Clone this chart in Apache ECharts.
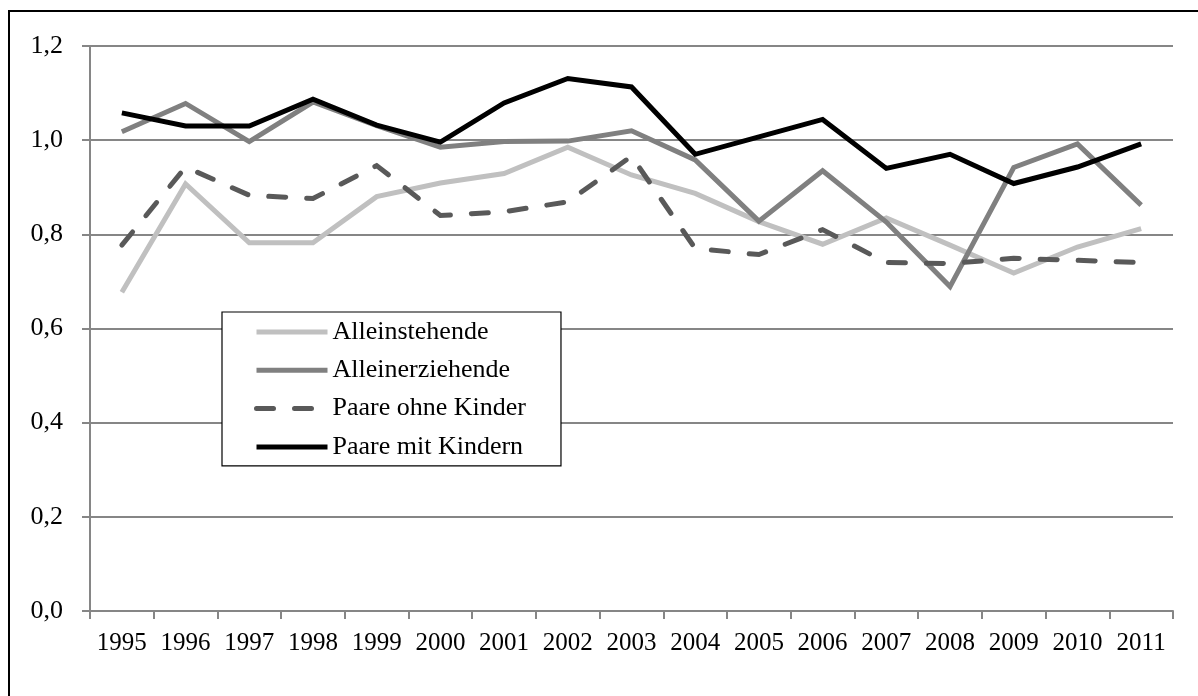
<!DOCTYPE html>
<html>
<head>
<meta charset="utf-8">
<script src="https://cdn.jsdelivr.net/npm/echarts@6/dist/echarts.min.js"></script>
<style>
  html, body { margin: 0; padding: 0; background: #fff; }
  #chart { width: 1198px; height: 696px; }
</style>
</head>
<body>
<div id="chart"></div>
<script>
// Jahre (Kategorien der x-Achse)
const years = ['1995','1996','1997','1998','1999','2000','2001','2002','2003','2004','2005','2006','2007','2008','2009','2010','2011'];

// Werte je Haushaltstyp
const alleinstehende   = [0.677, 0.907, 0.782, 0.782, 0.880, 0.909, 0.929, 0.985, 0.926, 0.887, 0.827, 0.779, 0.835, 0.777, 0.718, 0.773, 0.812];
const alleinerziehende = [1.018, 1.078, 0.997, 1.081, 1.031, 0.985, 0.997, 0.998, 1.020, 0.958, 0.828, 0.935, 0.826, 0.689, 0.942, 0.992, 0.862];
const paareOhneKinder  = [0.777, 0.943, 0.883, 0.876, 0.946, 0.840, 0.848, 0.869, 0.966, 0.770, 0.757, 0.810, 0.740, 0.738, 0.749, 0.745, 0.740];
const paareMitKindern  = [1.058, 1.030, 1.030, 1.087, 1.032, 0.996, 1.079, 1.131, 1.113, 0.970, 1.007, 1.044, 0.940, 0.970, 0.908, 0.943, 0.992];

const FONT = '"Liberation Serif", "Times New Roman", serif';
const GRID_GREY = '#868686';
const LINE_W = 5;

const chart = echarts.init(document.getElementById('chart'), null, { renderer: 'canvas' });

function lineSeries(name, data, color, dashed) {
  return {
    name: name,
    type: 'line',
    data: data,
    symbol: 'none',
    smooth: false,
    animation: false,
    lineStyle: {
      color: color,
      width: LINE_W,
      type: dashed ? [17, 21] : 'solid',
      cap: dashed ? 'round' : 'butt',
      join: 'miter'
    },
    itemStyle: { color: color }
  };
}

chart.setOption({
  backgroundColor: '#ffffff',
  animation: false,
  graphic: [{
    type: 'rect',
    shape: { x: 9, y: 11, width: 1200, height: 700 },
    style: { fill: 'none', stroke: '#000', lineWidth: 2 },
    z: 100
  }],
  grid: { left: 90, right: 25, top: 46, bottom: 85, containLabel: false },
  legend: {
    orient: 'vertical',
    left: 222,
    top: 312,
    padding: [7, 35, 6, 32],
    itemGap: 12.3,
    itemWidth: 71,
    itemHeight: 14,
    backgroundColor: '#fff',
    borderColor: '#000',
    borderWidth: 1.2,
    borderRadius: 0,
    itemStyle: { opacity: 0 },
    lineStyle: { width: LINE_W },
    textStyle: { fontFamily: FONT, fontSize: 26, color: '#000', lineHeight: 26 },
    data: ['Alleinstehende', 'Alleinerziehende', 'Paare ohne Kinder', 'Paare mit Kindern']
  },
  xAxis: {
    type: 'category',
    data: years,
    boundaryGap: true,
    axisLine: { lineStyle: { color: GRID_GREY, width: 2 } },
    axisTick: { show: true, length: 8, lineStyle: { color: GRID_GREY, width: 2 } },
    axisLabel: { fontFamily: FONT, fontSize: 25, color: '#000', margin: 20, interval: 0 },
    splitLine: { show: false }
  },
  yAxis: {
    type: 'value',
    min: 0,
    max: 1.2,
    interval: 0.2,
    axisLine: { show: true, lineStyle: { color: GRID_GREY, width: 2 } },
    axisTick: { show: true, length: 8, lineStyle: { color: GRID_GREY, width: 2 } },
    axisLabel: {
      fontFamily: FONT, fontSize: 26, color: '#000', margin: 27,
      formatter: function (v) { return v.toFixed(1).replace('.', ','); }
    },
    splitLine: { show: true, lineStyle: { color: GRID_GREY, width: 2 } }
  },
  series: [
    lineSeries('Alleinstehende', alleinstehende, '#c0c0c0', false),
    lineSeries('Alleinerziehende', alleinerziehende, '#808080', false),
    lineSeries('Paare ohne Kinder', paareOhneKinder, '#595959', true),
    lineSeries('Paare mit Kindern', paareMitKindern, '#000000', false)
  ]
});
</script>
</body>
</html>
